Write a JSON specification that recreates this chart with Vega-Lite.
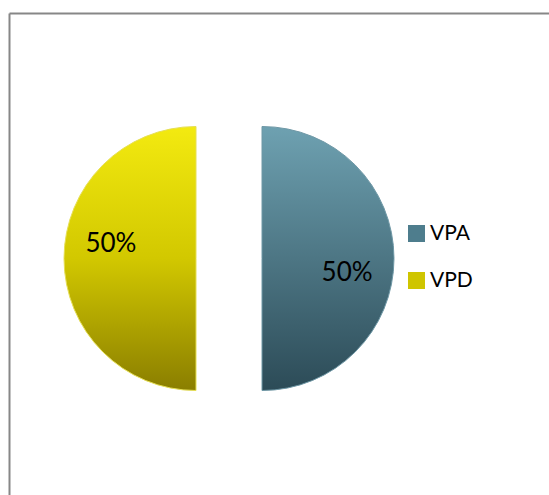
{
  "$schema": "https://vega.github.io/schema/vega-lite/v6.json",
  "width": 540,
  "height": 482,
  "autosize": {"type": "none"},
  "padding": {"left": 9, "top": 13, "right": 0, "bottom": 0},
  "background": "white",
  "view": {"stroke": null},
  "data": {"values": [
    {"label": "VPA", "share": 0.5},
    {"label": "VPD", "share": 0.5}
  ]},
  "resolve": {"scale": {"theta": "independent"}},
  "layer": [
    {
      "mark": {"type": "point", "opacity": 0},
      "encoding": {
        "x": {"datum": 0, "type": "quantitative", "scale": {"domain": [0, 1]},
          "axis": {"orient": "top", "domainColor": "#878787", "domainWidth": 2, "ticks": false, "labels": false, "grid": false, "title": null}},
        "y": {"datum": 0, "type": "quantitative", "scale": {"domain": [0, 1]},
          "axis": {"orient": "left", "domainColor": "#878787", "domainWidth": 2, "ticks": false, "labels": false, "grid": false, "title": null}}
      }
    },
    {
      "mark": {"type": "arc", "outerRadius": 0, "strokeWidth": 0},
      "encoding": {
        "theta": {"field": "share", "type": "quantitative", "stack": true},
        "color": {
          "field": "label",
          "type": "nominal",
          "scale": {"domain": ["VPA", "VPD"], "range": ["#4e7d8d", "#cfc500"]},
          "legend": {
            "orient": "none",
            "legendX": 397,
            "legendY": 210,
            "title": null,
            "symbolType": "square",
            "symbolSize": 289,
            "symbolStrokeWidth": 0,
            "labelFontSize": 21,
            "labelFont": "Lato",
            "labelColor": "black",
            "labelOffset": 3,
            "rowPadding": 25
          }
        }
      }
    },
    {
      "transform": [
        {"stack": "share", "groupby": [], "as": ["v0", "v1"], "sort": [{"field": "label", "order": "ascending"}]},
        {"filter": "datum.label === 'VPA'"}
      ],
      "mark": {
        "type": "arc",
        "outerRadius": 132,
        "xOffset": -17,
        "yOffset": 4.5,
        "fill": {"gradient": "linear", "x1": 0, "y1": 0, "x2": 0, "y2": 1,
          "stops": [{"offset": 0, "color": "#6ea1b1"}, {"offset": 1, "color": "#2c4b57"}]},
        "stroke": "#6f98a6",
        "strokeWidth": 1
      },
      "encoding": {
        "theta": {"field": "v0", "type": "quantitative", "scale": {"domain": [0, 1]}},
        "theta2": {"field": "v1"}
      }
    },
    {
      "transform": [
        {"stack": "share", "groupby": [], "as": ["v0", "v1"], "sort": [{"field": "label", "order": "ascending"}]},
        {"filter": "datum.label === 'VPD'"}
      ],
      "mark": {
        "type": "arc",
        "outerRadius": 132,
        "xOffset": -83,
        "yOffset": 4.5,
        "fill": {"gradient": "linear", "x1": 0, "y1": 0, "x2": 0, "y2": 1,
          "stops": [{"offset": 0, "color": "#f3ea10"}, {"offset": 0.5, "color": "#d2c800"}, {"offset": 1, "color": "#8a7e00"}]},
        "stroke": "#e6df55",
        "strokeWidth": 1
      },
      "encoding": {
        "theta": {"field": "v0", "type": "quantitative", "scale": {"domain": [0, 1]}},
        "theta2": {"field": "v1"}
      }
    },
    {
      "mark": {"type": "text", "radius": 119, "xOffset": -50, "yOffset": 4.5, "fontSize": 26, "font": "Lato", "color": "black"},
      "encoding": {
        "theta": {"field": "share", "type": "quantitative", "stack": true, "scale": {"domain": [0, 1], "range": [0.125, 6.408]}},
        "order": {"field": "label", "type": "ordinal", "sort": "ascending"},
        "text": {"field": "share", "type": "quantitative", "format": ".0%"}
      }
    }
  ]
}
